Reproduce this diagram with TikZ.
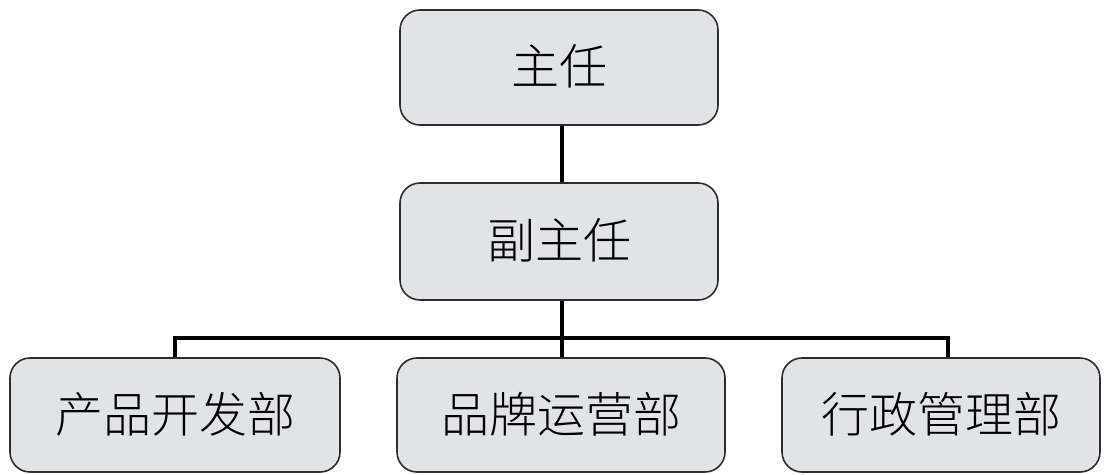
\documentclass[tikz,border=0pt]{standalone}
\usepackage{fontspec}
\newfontfamily\cjk{Noto Sans CJK SC Light}
\definecolor{boxfill}{RGB}{226,227,231}
\definecolor{boxline}{RGB}{45,45,45}
\newcommand{\uptext}[1]{\raisebox{6pt}{#1}}
\begin{document}
\begin{tikzpicture}[x=1pt,y=-1pt,
  orgbox/.style={draw=boxline,line width=1.6pt,fill=boxfill,rounded corners=20pt,
    minimum width=#1,inner sep=0pt,font=\cjk\fontsize{48pt}{48pt}\selectfont},
  link/.style={line width=3.8pt,black}]
\useasboundingbox (0,0) rectangle (1105,474);
\node[orgbox=318pt,minimum height=115pt] (zr) at (559,67.5) {\uptext{主任}};
\node[orgbox=318pt,minimum height=117pt] (fzr) at (559,241.5) {\uptext{副主任}};
\node[orgbox=330pt,minimum height=114pt] (cp) at (175,415) {\uptext{产品开发部}};
\node[orgbox=328pt,minimum height=114pt] (pp) at (561,415) {\uptext{品牌运营部}};
\node[orgbox=318pt,minimum height=114pt] (xz) at (941,415) {\uptext{行政管理部}};
\coordinate (busL) at (175,338);
\coordinate (busM) at (562,338);
\coordinate (busR) at (948,338);
\draw[link] (zr.south -| busM) -- (fzr.north -| busM);
\draw[link] (fzr.south -| busM) -- (busM);
\draw[link] (cp.north -| busL) -- (busL) -- (busR) -- (xz.north -| busR);
\draw[link] (busM) -- (pp.north -| busM);
\end{tikzpicture}
\end{document}
